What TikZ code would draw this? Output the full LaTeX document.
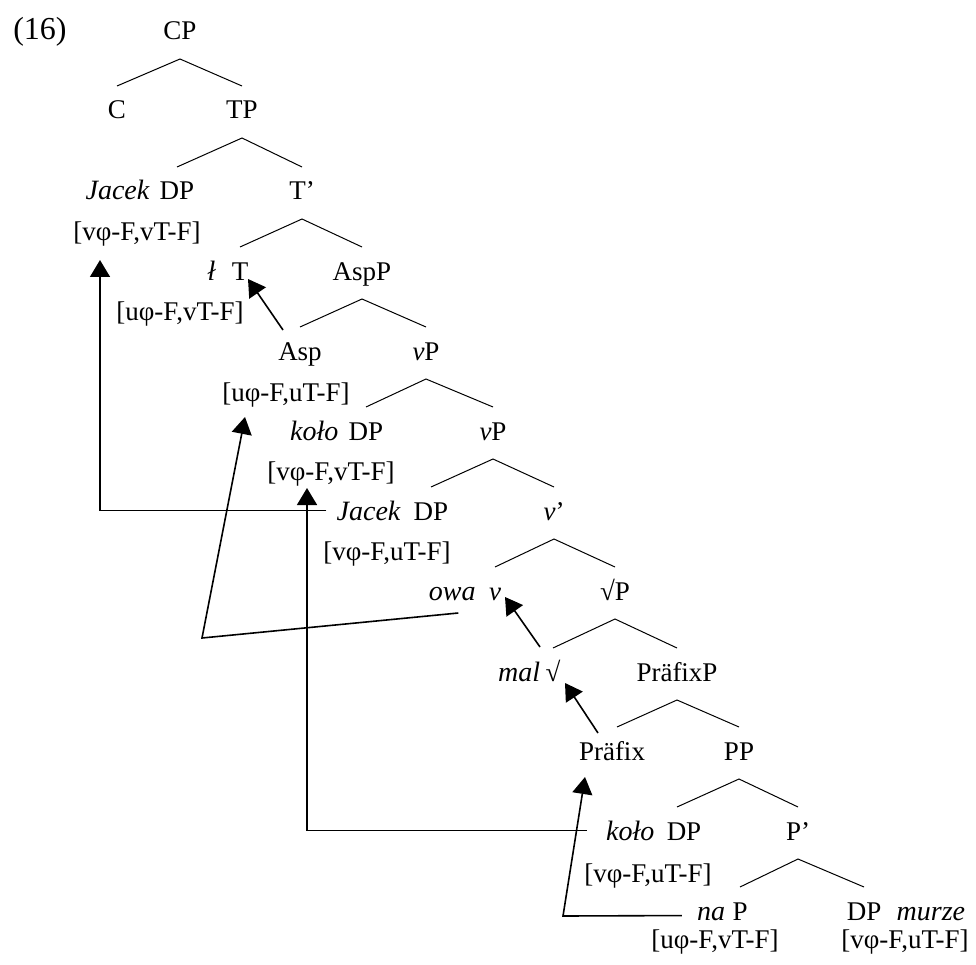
\documentclass[tikz,border=0pt]{standalone}
\usepackage{fontspec}
\setmainfont{Liberation Serif}
\usetikzlibrary{positioning,arrows.meta}

\begin{document}
\begin{tikzpicture}[x=1pt,y=-1pt,
  every node/.style={inner sep=0pt,anchor=base,font=\fontsize{27}{32}\selectfont},
  word/.style={font=\fontsize{28}{32}\selectfont\itshape},
  branch/.style={line width=1pt},
  move/.style={line width=1.6pt,-{Triangle[width=20pt,length=17pt]}}]
  \useasboundingbox (0,0) rectangle (976,965);

  \node[font=\fontsize{32}{36}\selectfont] (ex) at (40,40) {(16)};

  % tree
  \node (cp) at (180,40) {CP};
  \node (c) at (117,119) {C};
  \node (tp) at (242,119) {TP};
  \node (dpa) at (177,200) {DP};
  \node[word, base left=10pt of dpa] (jacekA) {Jacek};
  \node (tbar) at (302,200) {T’};
  \node (fa) at (137,241) {[vφ-F,vT-F]};
  \node (t) at (240,280) {T};
  \node[word, base left=16pt of t] (lbar) {ł};
  \node (aspp) at (362,280) {AspP};
  \node (fb) at (180,320) {[uφ-F,vT-F]};
  \node (asp) at (300,360) {Asp};
  \node (vpa) at (426,360) {\textit{v}P};
  \node (fc) at (286,401) {[uφ-F,uT-F]};
  \node (dpb) at (366,440) {DP};
  \node[word, base left=10pt of dpb] (koloA) {koło};
  \node (vpb) at (493,440) {\textit{v}P};
  \node (fd) at (331,480) {[vφ-F,vT-F]};
  \node (dpc) at (431,520) {DP};
  \node[word, base left=13pt of dpc] (jacekB) {Jacek};
  \node (vbar) at (554,520) {\textit{v}’};
  \node (fe) at (387,560) {[vφ-F,uT-F]};
  \node (v) at (495,600) {\textit{v}};
  \node[word, base left=13pt of v] (owa) {owa};
  \node (rootp) at (615,600) {√P};
  \node (root) at (553,681) {√};
  \node[word, base left=5pt of root] (mal) {mal};
  \node (praefixp) at (677,681) {PräfixP};
  \node (praefix) at (612,760) {Präfix};
  \node (pp) at (739,760) {PP};
  \node (dpd) at (684,840) {DP};
  \node[word, base left=12pt of dpd] (koloB) {koło};
  \node (pbar) at (798,840) {P’};
  \node (ff) at (648,882) {[vφ-F,uT-F]};
  \node (p) at (740,920) {P};
  \node[word, base left=7pt of p] (na) {na};
  \node (dpe) at (864,920) {DP};
  \node[word, base right=15pt of dpe] (murze) {murze};
  \node (fg) at (715,948) {[uφ-F,vT-F]};
  \node (fh) at (905,948) {[vφ-F,uT-F]};

  \foreach \p/\l/\r/\s in {cp/c/tp/0, tp/dpa/tbar/0, tbar/t/aspp/0, aspp/asp/vpa/0,
      vpa/dpb/vpb/0, vpb/dpc/vbar/0, vbar/v/rootp/0, rootp/root/praefixp/0,
      praefixp/praefix/pp/5, pp/dpd/pbar/-7, pbar/p/dpe/0}
    \draw[branch] ([xshift=\s pt,yshift=33pt]\l.base) -- ([yshift=-19pt]\p.base) -- ([yshift=33pt]\r.base);

  % movement
  \coordinate (bendA) at (202,638);
  \coordinate (bendB) at (563,916);
  \draw[move] ([xshift=-10pt]jacekB.west) -| ([xshift=-37pt,yshift=-19pt]fa.base);
  \draw[move] ([xshift=-17pt,yshift=30pt]asp.base) -- ([xshift=8pt,yshift=1pt]t.base);
  \draw[move] ([xshift=6pt,yshift=-13pt]owa.base) -- (bendA) -- ([xshift=-41pt,yshift=-16pt]fc.base);
  \draw[move] ([xshift=-19pt]koloB.west) -| ([xshift=-24pt,yshift=-8pt]fd.base);
  \draw[move] ([xshift=-15pt,yshift=-2pt]na.west) -- (bendB) -- ([xshift=-27pt,yshift=-17pt]praefix.base);
  \draw[move] ([xshift=-13pt,yshift=34pt]root.base) -- ([xshift=10pt,yshift=3pt]v.base);
  \draw[move] ([xshift=-14pt,yshift=27pt]praefix.base) -- ([xshift=12pt,yshift=-2pt]root.base);
\end{tikzpicture}
\end{document}
